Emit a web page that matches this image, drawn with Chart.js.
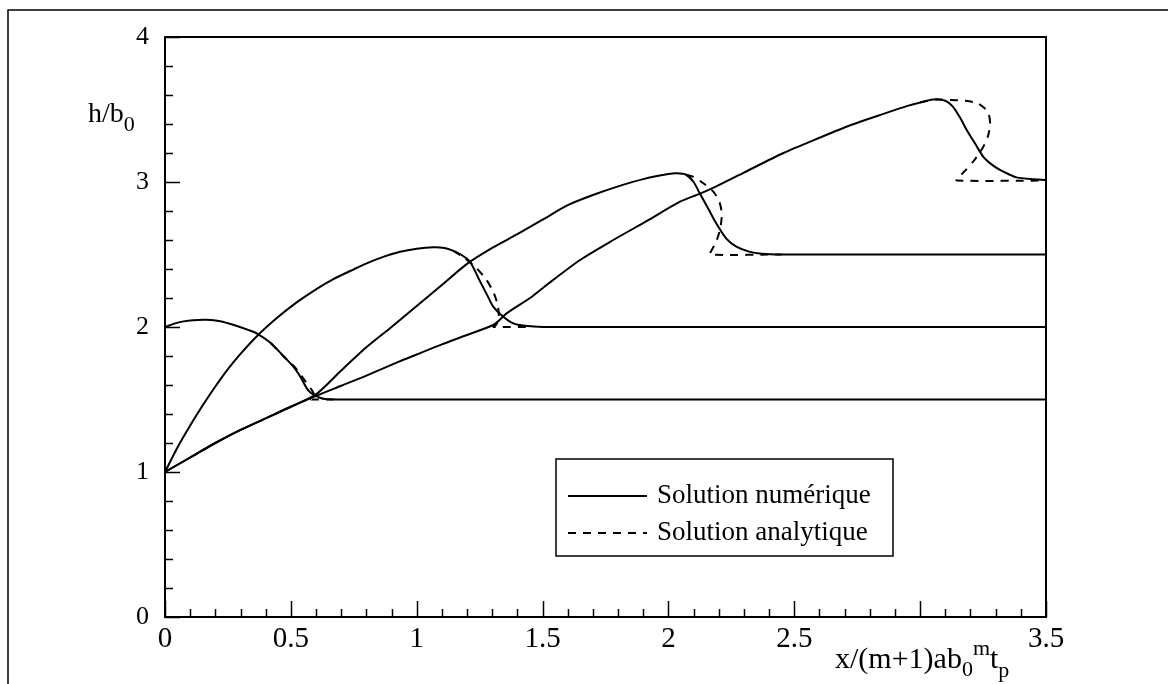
<!DOCTYPE html>
<html>
<head>
<meta charset="utf-8">
<script src="https://cdn.jsdelivr.net/npm/chart.js@4.4.1/dist/chart.umd.min.js"></script>
<style>
  html, body { margin: 0; padding: 0; background: #fff; }
  canvas { display: block; }
</style>
</head>
<body>
<canvas id="chartCanvas" width="1168" height="684"></canvas>
<script>
"use strict";

// numerical solution, four profiles
const numA_x = [0, 0.05, 0.1, 0.166, 0.22, 0.28, 0.33, 0.364, 0.42, 0.47, 0.51, 0.54, 0.563, 0.58, 0.596, 0.615, 0.636, 0.7, 3.5];
const numA_y = [2.0, 2.03, 2.045, 2.05, 2.04, 2.01, 1.98, 1.956, 1.89, 1.80, 1.726, 1.65, 1.577, 1.545, 1.528, 1.512, 1.503, 1.5, 1.5];

const numB_x = [0, 0.05, 0.1, 0.15, 0.2, 0.25, 0.3, 0.364, 0.45, 0.523, 0.6, 0.669, 0.75, 0.801, 0.87, 0.934, 1.0, 1.066, 1.11, 1.146, 1.18, 1.212, 1.25, 1.28, 1.304, 1.344, 1.384, 1.43, 1.5, 3.5];
const numB_y = [1, 1.17, 1.32, 1.46, 1.59, 1.71, 1.815, 1.935, 2.07, 2.17, 2.26, 2.33, 2.398, 2.439, 2.485, 2.519, 2.54, 2.55, 2.545, 2.525, 2.495, 2.45, 2.32, 2.22, 2.14, 2.071, 2.025, 2.008, 2.0, 2.0];

const numC_x = [0, 0.1, 0.2, 0.3, 0.4, 0.5, 0.6, 0.7, 0.8, 0.9, 1.0, 1.1, 1.2, 1.3, 1.4, 1.5, 1.6, 1.7, 1.8, 1.9, 2.0, 2.033, 2.07, 2.1, 2.125, 2.16, 2.19, 2.23, 2.27, 2.32, 2.37, 2.45, 3.5];
const numC_y = [1, 1.1, 1.2, 1.29, 1.37, 1.45, 1.535, 1.70, 1.86, 2.0, 2.145, 2.29, 2.435, 2.545, 2.64, 2.74, 2.84, 2.91, 2.97, 3.02, 3.055, 3.06, 3.05, 3.0, 2.92, 2.81, 2.715, 2.61, 2.554, 2.52, 2.505, 2.5, 2.5];

const numD_x = [0, 0.1, 0.2, 0.3, 0.4, 0.5, 0.6, 0.7, 0.8, 0.934, 1.0, 1.1, 1.2, 1.304, 1.33, 1.357, 1.45, 1.516, 1.649, 1.781, 1.913, 2.046, 2.126, 2.19, 2.3, 2.457, 2.6, 2.72, 2.854, 2.95, 3.013, 3.059, 3.1, 3.13, 3.16, 3.185, 3.22, 3.251, 3.285, 3.317, 3.35, 3.383, 3.44, 3.5];
const numD_y = [1, 1.1, 1.2, 1.29, 1.37, 1.45, 1.525, 1.595, 1.665, 1.765, 1.81, 1.88, 1.945, 2.014, 2.05, 2.094, 2.20, 2.29, 2.462, 2.6, 2.73, 2.864, 2.92, 2.97, 3.065, 3.2, 3.305, 3.39, 3.47, 3.525, 3.554, 3.57, 3.56, 3.52, 3.44, 3.359, 3.26, 3.174, 3.12, 3.083, 3.055, 3.032, 3.02, 3.014];

// analytic solution near the fronts (multivalued, so kept in path order)
const anaA_x = [0.42, 0.47, 0.52, 0.56, 0.585, 0.595, 0.59, 0.58, 0.7];
const anaA_y = [1.89, 1.80, 1.715, 1.62, 1.56, 1.52, 1.505, 1.5, 1.5];

const anaB_x = [1.146, 1.19, 1.235, 1.275, 1.305, 1.322, 1.326, 1.32, 1.31, 1.305, 1.45];
const anaB_y = [2.525, 2.475, 2.41, 2.33, 2.24, 2.15, 2.08, 2.03, 2.005, 2.0, 2.0];

const anaC_x = [2.07, 2.1, 2.14, 2.18, 2.203, 2.212, 2.206, 2.19, 2.172, 2.165, 2.45];
const anaC_y = [3.05, 3.035, 2.99, 2.93, 2.86, 2.78, 2.68, 2.59, 2.53, 2.5, 2.5];

const anaD_x = [3.0, 3.059, 3.12, 3.18, 3.225, 3.255, 3.272, 3.278, 3.27, 3.25, 3.215, 3.18, 3.155, 3.145, 3.5];
const anaD_y = [3.55, 3.568, 3.565, 3.56, 3.545, 3.51, 3.47, 3.40, 3.32, 3.24, 3.15, 3.08, 3.035, 3.01, 3.01];

const legendLabels = ["Solution numérique", "Solution analytique"];
const hiddenXTick = 3;

const SERIF = "'Liberation Serif', 'Times New Roman', serif";
const DASH = [8, 7];

function pts(xs, ys) {
    return xs.map((x, i) => ({ x: x, y: ys[i] }));
}

function line(xs, ys, dashed) {
    return {
        data: pts(xs, ys),
        showLine: true,
        borderColor: '#000',
        borderWidth: 2,
        borderDash: dashed ? DASH : [],
        pointRadius: 0,
        tension: 0.25,
        fill: false
    };
}

// axes box, inward ticks, titles, legend and outer frame
const decorations = {
    id: 'decorations',
    afterDraw(chart) {
        const ctx = chart.ctx;
        const area = chart.chartArea;
        const xs = chart.scales.x;
        const ys = chart.scales.y;
        ctx.save();
        ctx.strokeStyle = '#000';
        ctx.fillStyle = '#000';

        // outer frame (only top and left visible)
        ctx.lineWidth = 1.5;
        ctx.beginPath();
        ctx.moveTo(8, 684);
        ctx.lineTo(8, 10);
        ctx.lineTo(1168, 10);
        ctx.stroke();

        // plot box
        ctx.lineWidth = 2;
        ctx.strokeRect(area.left, area.top, area.right - area.left, area.bottom - area.top);

        // x ticks every 0.1, major every 0.5
        ctx.beginPath();
        for (let i = 0; i <= 35; i++) {
            const px = Math.round(xs.getPixelForValue(i / 10)) + 0.5;
            const len = i % 5 === 0 ? 16 : 8;
            ctx.moveTo(px, area.bottom);
            ctx.lineTo(px, area.bottom - len);
        }
        // y ticks every 0.2, major every 1
        for (let i = 0; i <= 20; i++) {
            const py = Math.round(ys.getPixelForValue(i / 5)) + 0.5;
            const len = i % 5 === 0 ? 15 : 8;
            ctx.moveTo(area.left, py);
            ctx.lineTo(area.left + len, py);
        }
        ctx.lineWidth = 1.5;
        ctx.stroke();

        // axis titles with sub/superscripts
        function rich(parts, x, y) {
            ctx.textBaseline = 'alphabetic';
            ctx.textAlign = 'left';
            parts.forEach(p => {
                ctx.font = p.size + 'px ' + SERIF;
                ctx.fillText(p.t, x, y + p.dy);
                x += ctx.measureText(p.t).width;
            });
        }
        rich([
            { t: 'h/b', size: 28, dy: 0 },
            { t: '0', size: 22, dy: 9 }
        ], 88, 122);
        rich([
            { t: 'x/(m+1)ab', size: 30, dy: 0 },
            { t: '0', size: 22, dy: 8 },
            { t: 'm', size: 22, dy: -13 },
            { t: 't', size: 30, dy: 0 },
            { t: 'p', size: 22, dy: 9 }
        ], 835, 668);

        // legend
        const lx = 556, ly = 459, lw = 337, lh = 97;
        ctx.lineWidth = 1.5;
        ctx.strokeRect(lx, ly, lw, lh);
        const rows = [ly + 37, ly + 74];
        ctx.lineWidth = 2;
        rows.forEach((ry, i) => {
            ctx.setLineDash(i === 1 ? DASH : []);
            ctx.beginPath();
            ctx.moveTo(lx + 12, ry);
            ctx.lineTo(lx + 91, ry);
            ctx.stroke();
            ctx.setLineDash([]);
            ctx.font = '27px ' + SERIF;
            ctx.textBaseline = 'middle';
            ctx.fillText(legendLabels[i], lx + 101, ry);
        });
        ctx.restore();
    }
};

const ctx = document.getElementById('chartCanvas').getContext('2d');
const plot = new Chart(ctx, {
    type: 'scatter',
    data: {
        datasets: [
            line(numA_x, numA_y, false),
            line(numB_x, numB_y, false),
            line(numC_x, numC_y, false),
            line(numD_x, numD_y, false),
            line(anaA_x, anaA_y, true),
            line(anaB_x, anaB_y, true),
            line(anaC_x, anaC_y, true),
            line(anaD_x, anaD_y, true)
        ]
    },
    options: {
        responsive: false,
        animation: false,
        devicePixelRatio: 1,
        layout: { padding: { left: 0, top: 37, right: 122, bottom: 0 } },
        plugins: {
            legend: { display: false },
            tooltip: { enabled: false }
        },
        scales: {
            x: {
                type: 'linear',
                min: 0,
                max: 3.5,
                grid: { display: false, drawTicks: false },
                border: { display: false },
                ticks: {
                    stepSize: 0.5,
                    padding: 5,
                    color: '#000',
                    font: { family: SERIF, size: 29 },
                    maxRotation: 0,
                    callback: (v) => v === hiddenXTick ? '' : String(v)
                },
                afterFit: (scale) => { scale.height = 67; }
            },
            y: {
                type: 'linear',
                min: 0,
                max: 4,
                grid: { display: false, drawTicks: false },
                border: { display: false },
                ticks: {
                    stepSize: 1,
                    padding: 16,
                    color: '#000',
                    font: { family: SERIF, size: 26 },
                    callback: (v) => String(v)
                },
                afterFit: (scale) => { scale.width = 165; }
            }
        }
    },
    plugins: [decorations]
});
</script>
</body>
</html>
